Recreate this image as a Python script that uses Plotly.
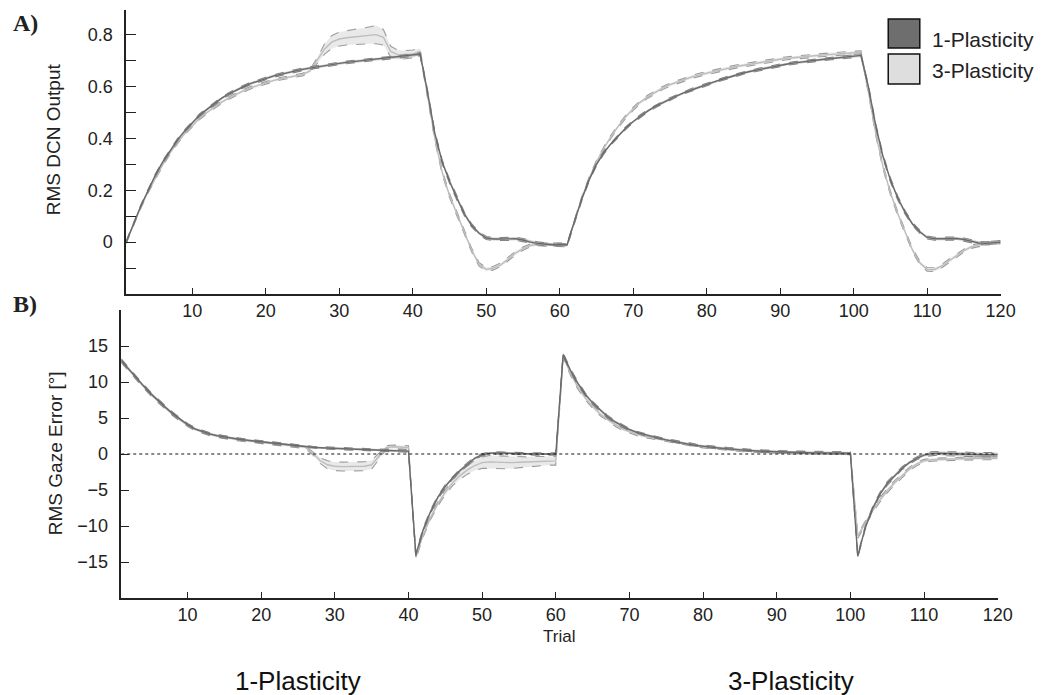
import plotly.graph_objects as go

W, H = 1059, 695

trials = list(range(1, 121))

# ---- Panel A: RMS DCN Output ----
dcn_1p = [
    0.00, 0.07, 0.14, 0.20, 0.26, 0.31, 0.355, 0.395, 0.43, 0.46,
    0.49, 0.512, 0.535, 0.555, 0.572, 0.587, 0.60, 0.612, 0.622, 0.632,
    0.64, 0.647, 0.654, 0.66, 0.666, 0.671, 0.676, 0.681, 0.685, 0.689,
    0.693, 0.696, 0.699, 0.702, 0.705, 0.708, 0.711, 0.714, 0.717, 0.72,
    0.725, 0.58, 0.42, 0.31, 0.235, 0.17, 0.11, 0.065, 0.035, 0.016,
    0.012, 0.012, 0.013, 0.013, 0.008, 0.0, -0.005, -0.008, -0.01, -0.01,
    -0.01, 0.08, 0.165, 0.24, 0.30, 0.345, 0.38, 0.41, 0.44, 0.465,
    0.487, 0.506, 0.523, 0.538, 0.552, 0.565, 0.577, 0.588, 0.598, 0.608,
    0.618, 0.627, 0.636, 0.644, 0.652, 0.659, 0.665, 0.671, 0.677, 0.682,
    0.687, 0.691, 0.695, 0.699, 0.702, 0.705, 0.708, 0.711, 0.714, 0.717,
    0.72, 0.60, 0.45, 0.33, 0.24, 0.17, 0.115, 0.07, 0.04, 0.018,
    0.013, 0.013, 0.014, 0.014, 0.01, 0.003, -0.003, -0.005, -0.003, 0.0,
]
dcn_1p_sd = [
    0.004, 0.004, 0.004, 0.005, 0.005, 0.005, 0.005, 0.005, 0.005, 0.005,
    0.005, 0.005, 0.005, 0.005, 0.005, 0.005, 0.005, 0.005, 0.005, 0.005,
    0.005, 0.005, 0.005, 0.005, 0.005, 0.005, 0.005, 0.005, 0.005, 0.005,
    0.005, 0.005, 0.005, 0.005, 0.005, 0.005, 0.005, 0.005, 0.005, 0.005,
    0.006, 0.008, 0.008, 0.008, 0.008, 0.008, 0.007, 0.006, 0.006, 0.006,
    0.006, 0.006, 0.006, 0.006, 0.006, 0.006, 0.006, 0.006, 0.006, 0.006,
    0.006, 0.006, 0.006, 0.006, 0.006, 0.006, 0.005, 0.005, 0.005, 0.005,
    0.005, 0.005, 0.005, 0.005, 0.005, 0.005, 0.005, 0.005, 0.005, 0.005,
    0.005, 0.005, 0.005, 0.005, 0.005, 0.005, 0.005, 0.005, 0.005, 0.005,
    0.005, 0.005, 0.005, 0.005, 0.005, 0.005, 0.005, 0.005, 0.005, 0.005,
    0.006, 0.008, 0.008, 0.008, 0.008, 0.008, 0.007, 0.006, 0.006, 0.006,
    0.006, 0.006, 0.006, 0.006, 0.006, 0.006, 0.006, 0.006, 0.006, 0.006,
]
dcn_3p = [
    0.00, 0.07, 0.135, 0.195, 0.25, 0.30, 0.345, 0.385, 0.42, 0.45,
    0.478, 0.50, 0.521, 0.54, 0.556, 0.571, 0.584, 0.596, 0.606, 0.615,
    0.623, 0.63, 0.636, 0.641, 0.646, 0.66, 0.70, 0.745, 0.772, 0.783,
    0.788, 0.791, 0.794, 0.797, 0.80, 0.79, 0.735, 0.722, 0.723, 0.726,
    0.735, 0.56, 0.40, 0.27, 0.18, 0.11, 0.04, -0.03, -0.085, -0.105,
    -0.10, -0.087, -0.065, -0.042, -0.025, -0.013, -0.008, -0.009, -0.011, -0.012,
    -0.012, 0.08, 0.17, 0.245, 0.31, 0.362, 0.408, 0.448, 0.484, 0.514,
    0.54, 0.561, 0.579, 0.594, 0.607, 0.618, 0.628, 0.637, 0.645, 0.652,
    0.659, 0.665, 0.671, 0.677, 0.682, 0.687, 0.692, 0.697, 0.701, 0.705,
    0.709, 0.712, 0.715, 0.718, 0.72, 0.722, 0.724, 0.726, 0.728, 0.73,
    0.732, 0.58, 0.42, 0.29, 0.19, 0.11, 0.04, -0.03, -0.08, -0.105,
    -0.106, -0.092, -0.072, -0.052, -0.033, -0.018, -0.01, -0.005, -0.002, 0.0,
]
dcn_3p_sd = [
    0.004, 0.004, 0.004, 0.005, 0.005, 0.005, 0.005, 0.005, 0.005, 0.005,
    0.005, 0.005, 0.005, 0.005, 0.005, 0.005, 0.005, 0.005, 0.005, 0.005,
    0.005, 0.005, 0.005, 0.005, 0.005, 0.006, 0.01, 0.02, 0.025, 0.027,
    0.028, 0.029, 0.03, 0.032, 0.035, 0.03, 0.02, 0.018, 0.016, 0.015,
    0.012, 0.008, 0.008, 0.008, 0.008, 0.008, 0.008, 0.007, 0.007, 0.007,
    0.007, 0.007, 0.007, 0.007, 0.006, 0.006, 0.006, 0.006, 0.006, 0.006,
    0.006, 0.006, 0.006, 0.006, 0.006, 0.006, 0.006, 0.006, 0.006, 0.006,
    0.006, 0.006, 0.006, 0.006, 0.006, 0.006, 0.006, 0.006, 0.006, 0.006,
    0.006, 0.006, 0.006, 0.006, 0.006, 0.006, 0.006, 0.006, 0.006, 0.006,
    0.006, 0.006, 0.006, 0.006, 0.006, 0.006, 0.006, 0.006, 0.006, 0.006,
    0.006, 0.008, 0.008, 0.008, 0.008, 0.008, 0.008, 0.007, 0.007, 0.007,
    0.007, 0.007, 0.007, 0.007, 0.006, 0.006, 0.006, 0.006, 0.006, 0.006,
]

# ---- Panel B: RMS Gaze Error ----
err_1p = [
    13.0, 11.8, 10.6, 9.5, 8.4, 7.4, 6.5, 5.6, 4.8, 4.1,
    3.5, 3.1, 2.8, 2.55, 2.35, 2.2, 2.05, 1.92, 1.8, 1.68,
    1.56, 1.45, 1.34, 1.23, 1.12, 1.0, 0.93, 0.87, 0.82, 0.77,
    0.72, 0.68, 0.64, 0.6, 0.56, 0.52, 0.49, 0.46, 0.43, 0.4,
    -14.0, -10.5, -8.0, -6.0, -4.5, -3.3, -2.3, -1.4, -0.6, -0.1,
    0.1, 0.15, 0.1, 0.1, 0.05, 0.0, 0.0, 0.0, 0.0, 0.0,
    13.8, 11.6, 9.8, 8.3, 7.1, 6.1, 5.2, 4.5, 3.9, 3.4,
    3.0, 2.7, 2.45, 2.2, 1.97, 1.75, 1.55, 1.37, 1.2, 1.05,
    0.95, 0.85, 0.75, 0.65, 0.57, 0.5, 0.44, 0.38, 0.33, 0.28,
    0.25, 0.22, 0.2, 0.18, 0.16, 0.15, 0.14, 0.13, 0.12, 0.12,
    -14.2, -10.3, -7.6, -5.6, -4.1, -3.0, -2.0, -1.2, -0.6, -0.15,
    0.05, 0.1, 0.05, 0.0, -0.05, -0.05, -0.1, -0.1, -0.1, -0.1,
]
err_1p_sd = [
    0.2, 0.2, 0.2, 0.2, 0.2, 0.2, 0.2, 0.2, 0.2, 0.15,
    0.15, 0.15, 0.15, 0.15, 0.15, 0.15, 0.15, 0.15, 0.15, 0.15,
    0.15, 0.15, 0.15, 0.15, 0.15, 0.15, 0.15, 0.15, 0.15, 0.15,
    0.15, 0.15, 0.15, 0.15, 0.15, 0.15, 0.15, 0.15, 0.15, 0.15,
    0.25, 0.25, 0.25, 0.25, 0.25, 0.2, 0.2, 0.2, 0.2, 0.15,
    0.15, 0.15, 0.15, 0.15, 0.15, 0.15, 0.15, 0.15, 0.15, 0.15,
    0.25, 0.25, 0.25, 0.2, 0.2, 0.2, 0.2, 0.2, 0.2, 0.15,
    0.15, 0.15, 0.15, 0.15, 0.15, 0.15, 0.15, 0.15, 0.15, 0.15,
    0.15, 0.15, 0.15, 0.15, 0.15, 0.15, 0.15, 0.15, 0.15, 0.15,
    0.15, 0.15, 0.15, 0.15, 0.15, 0.15, 0.15, 0.15, 0.15, 0.15,
    0.25, 0.25, 0.25, 0.25, 0.25, 0.2, 0.2, 0.2, 0.2, 0.2,
    0.25, 0.25, 0.3, 0.3, 0.3, 0.3, 0.3, 0.3, 0.3, 0.3,
]
err_3p = [
    12.9, 11.7, 10.5, 9.4, 8.3, 7.3, 6.4, 5.5, 4.7, 4.0,
    3.45, 3.05, 2.75, 2.5, 2.3, 2.15, 2.0, 1.88, 1.76, 1.64,
    1.52, 1.41, 1.3, 1.19, 1.08, 0.95, 0.1, -0.9, -1.5, -1.7,
    -1.75, -1.75, -1.75, -1.7, -1.5, -0.3, 0.9, 1.0, 0.95, 0.9,
    -14.3, -11.2, -8.8, -6.9, -5.3, -4.0, -3.0, -2.2, -1.6, -1.2,
    -1.1, -1.15, -1.2, -1.2, -1.15, -1.1, -1.05, -1.0, -0.95, -0.95,
    13.6, 11.2, 9.3, 7.8, 6.6, 5.6, 4.8, 4.1, 3.5, 3.1,
    2.75, 2.5, 2.3, 2.1, 1.9, 1.7, 1.52, 1.35, 1.2, 1.05,
    0.93, 0.82, 0.72, 0.63, 0.55, 0.48, 0.42, 0.37, 0.32, 0.28,
    0.25, 0.22, 0.2, 0.18, 0.16, 0.15, 0.14, 0.13, 0.12, 0.12,
    -11.4, -9.6, -7.9, -6.4, -5.1, -4.0, -3.0, -2.1, -1.4, -0.95,
    -0.8, -0.75, -0.7, -0.7, -0.65, -0.65, -0.6, -0.6, -0.6, -0.6,
]
err_3p_sd = [
    0.2, 0.2, 0.2, 0.2, 0.2, 0.2, 0.2, 0.2, 0.2, 0.2,
    0.2, 0.2, 0.2, 0.2, 0.2, 0.2, 0.2, 0.2, 0.2, 0.2,
    0.2, 0.2, 0.2, 0.2, 0.2, 0.2, 0.2, 0.4, 0.55, 0.6,
    0.62, 0.63, 0.64, 0.63, 0.6, 0.45, 0.25, 0.25, 0.25, 0.25,
    0.3, 0.3, 0.3, 0.3, 0.35, 0.4, 0.5, 0.6, 0.7, 0.8,
    0.9, 0.9, 0.85, 0.8, 0.75, 0.7, 0.7, 0.65, 0.6, 0.6,
    0.3, 0.3, 0.3, 0.25, 0.25, 0.25, 0.2, 0.2, 0.2, 0.2,
    0.2, 0.2, 0.2, 0.2, 0.2, 0.2, 0.2, 0.2, 0.2, 0.2,
    0.2, 0.2, 0.2, 0.2, 0.2, 0.2, 0.2, 0.2, 0.2, 0.2,
    0.2, 0.2, 0.2, 0.2, 0.2, 0.2, 0.2, 0.2, 0.2, 0.2,
    0.3, 0.3, 0.3, 0.3, 0.3, 0.3, 0.25, 0.25, 0.25, 0.2,
    0.2, 0.2, 0.2, 0.2, 0.2, 0.2, 0.2, 0.2, 0.2, 0.2,
]

series_names = ["1-Plasticity", "3-Plasticity"]
x_ticks = [10, 20, 30, 40, 50, 60, 70, 80, 90, 100, 110, 120]
dcn_ticks = [0, 0.2, 0.4, 0.6, 0.8]
dcn_minor = [-0.1, 0.1, 0.3, 0.5, 0.7]
err_ticks = [-15, -10, -5, 0, 5, 10, 15]

SANS = "Liberation Sans, Arial, sans-serif"
SERIF = "Liberation Serif, Times New Roman, serif"

styles = {
    "1-Plasticity": dict(mean="#6a6a6a", edge="#858585", fill="rgba(140,140,140,0.45)"),
    "3-Plasticity": dict(mean="#bdbdbd", edge="#9c9c9c", fill="rgba(226,226,226,0.75)"),
}

fig = go.Figure()


def add_band(mean, sd, name, xa, ya):
    st = styles[name]
    lo = [m - s for m, s in zip(mean, sd)]
    hi = [m + s for m, s in zip(mean, sd)]
    fig.add_trace(go.Scatter(x=trials, y=lo, xaxis=xa, yaxis=ya, mode="lines",
                             line=dict(color=st["edge"], width=1.1, dash="dash"),
                             showlegend=False, hoverinfo="skip"))
    fig.add_trace(go.Scatter(x=trials, y=hi, xaxis=xa, yaxis=ya, mode="lines",
                             line=dict(color=st["edge"], width=1.1, dash="dash"),
                             fill="tonexty", fillcolor=st["fill"],
                             showlegend=False, hoverinfo="skip"))
    fig.add_trace(go.Scatter(x=trials, y=mean, xaxis=xa, yaxis=ya, mode="lines",
                             line=dict(color=st["mean"], width=1.4),
                             name=name, showlegend=False))


add_band(dcn_3p, dcn_3p_sd, "3-Plasticity", "x", "y")
add_band(dcn_1p, dcn_1p_sd, "1-Plasticity", "x", "y")
add_band(err_3p, err_3p_sd, "3-Plasticity", "x2", "y2")
add_band(err_1p, err_1p_sd, "1-Plasticity", "x2", "y2")


def px(x):
    return x / W


def py(y):
    return 1 - y / H


axis_common = dict(showline=True, linecolor="#222", linewidth=1.5, showgrid=False,
                   zeroline=False, ticks="inside", tickcolor="#222", tickwidth=1.3,
                   tickfont=dict(family=SANS, size=18, color="#222"))

fig.update_layout(
    width=W, height=H,
    margin=dict(l=0, r=0, t=0, b=0),
    paper_bgcolor="white", plot_bgcolor="white",
    showlegend=False,
    xaxis=dict(domain=[px(128), px(1015)], range=[1, 120], anchor="y",
               tickvals=x_ticks, ticklen=6, ticklabelstandoff=0, **axis_common),
    yaxis=dict(domain=[py(294), py(10)], range=[-0.2, 0.895], anchor="x",
               tickvals=dcn_ticks, ticktext=["0", "0.2", "0.4", "0.6", "0.8"],
               ticklen=10, ticklabelstandoff=8,
               minor=dict(tickvals=dcn_minor, ticks="inside", ticklen=10,
                          tickcolor="#222", tickwidth=1.3),
               **axis_common),
    xaxis2=dict(domain=[px(123), px(1012)], range=[1, 120], anchor="y2",
                tickvals=x_ticks, ticklen=6, ticklabelstandoff=0, **axis_common),
    yaxis2=dict(domain=[py(598), py(310)], range=[-20, 20], anchor="x2",
                tickvals=err_ticks, ticklen=8, ticklabelstandoff=8, **axis_common),
)

# zero reference line in panel B
fig.add_shape(type="line", xref="x2", yref="y2", x0=trials[0], x1=trials[-1], y0=0, y1=0,
              line=dict(color="#111", width=1, dash="dot"))

# legend boxes
fig.add_shape(type="rect", xref="paper", yref="paper", x0=px(901), x1=px(933), y0=py(48), y1=py(19),
              line=dict(color="#111", width=1.5), fillcolor="#6e6e6e")
fig.add_shape(type="rect", xref="paper", yref="paper", x0=px(901), x1=px(933), y0=py(84), y1=py(54),
              line=dict(color="#111", width=1.5), fillcolor="#dedede")

annotations = [
    dict(text="1-Plasticity", x=px(943), y=py(40), xanchor="left", yanchor="middle",
         font=dict(family=SANS, size=21, color="#222")),
    dict(text="3-Plasticity", x=px(943), y=py(71), xanchor="left", yanchor="middle",
         font=dict(family=SANS, size=21, color="#222")),
    dict(text="<b>A)</b>", x=px(11), y=py(23), xanchor="left", yanchor="middle",
         font=dict(family=SERIF, size=24, color="#222")),
    dict(text="<b>B)</b>", x=px(11), y=py(304), xanchor="left", yanchor="middle",
         font=dict(family=SERIF, size=24, color="#222")),
    dict(text="RMS DCN Output", x=px(55), y=py(139), textangle=-90, xanchor="center", yanchor="middle",
         font=dict(family=SANS, size=19, color="#222")),
    dict(text="RMS Gaze Error [°]", x=px(56), y=py(453), textangle=-90, xanchor="center", yanchor="middle",
         font=dict(family=SANS, size=19, color="#222")),
    dict(text="Trial", x=px(567), y=py(636), xanchor="center", yanchor="middle",
         font=dict(family=SANS, size=17, color="#222")),
    dict(text="1-Plasticity", x=px(302), y=py(681), xanchor="center", yanchor="middle",
         font=dict(family=SANS, size=26, color="#111")),
    dict(text="3-Plasticity", x=px(802), y=py(681), xanchor="center", yanchor="middle",
         font=dict(family=SANS, size=26, color="#111")),
]
for a in annotations:
    a.update(xref="paper", yref="paper", showarrow=False)
fig.update_layout(annotations=annotations)

fig.write_html(
    "out.html",
    post_script="document.documentElement.style.overflow='hidden';"
                "document.body.style.margin='0';document.body.style.overflow='hidden';",
)
